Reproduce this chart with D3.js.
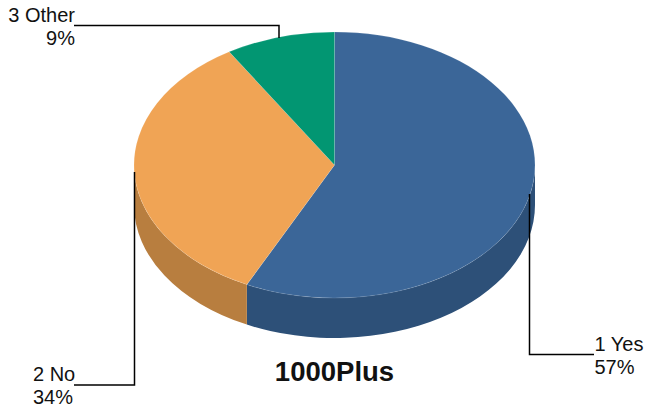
<!DOCTYPE html>
<html>
<head>
<meta charset="utf-8">
<script src="https://cdn.jsdelivr.net/npm/d3@7"></script>
<style>
    html, body { margin: 0; padding: 0; background: #fff; }
    svg { display: block; }
    text { font-family: "Liberation Sans", Arial, sans-serif; fill: #111; }
</style>
</head>
<body>
<svg id="chart" width="647" height="408"></svg>
<script>
    // Data, the labels show these rounded
    const categories = ['1 Yes', '2 No', '3 Other'];
    const percents = [57.2, 34, 8.8];
    const topColors = ['#3b6698', '#f0a455', '#029672'];
    const sideColors = ['#2d5078', '#b87e3f', '#017155'];
    const title = '1000Plus';

    // Constants
    const WIDTH = 647, HEIGHT = 408;
    const CX = 334.5, CY = 165;
    const RX = 200.5, RY = 133;
    const DEPTH = 40;

    // Leader lines, elbow paths and where their labels sit
    const leaders = [
        { points: [[529.5, 194], [529.5, 354.5], [594, 354.5]], x: 594.5, y: 350.5, anchor: 'start' },
        { points: [[134.5, 172], [134.5, 385], [74, 385]], x: 33, y: 380.5, anchor: 'start' },
        { points: [[279, 38], [279, 25.5], [74, 25.5]], x: 75, y: 22, anchor: 'end' }
    ];

    const svg = d3.select('#chart').attr('viewBox', [0, 0, WIDTH, HEIGHT]);

    const slices = d3.pie().sort(null)(percents);

    const px = (a) => CX + RX * Math.sin(a);
    const py = (a) => CY - RY * Math.cos(a);

    // Side wall, only the front half of the ellipse shows
    function wall(d) {
        let a0 = Math.max(d.startAngle, Math.PI / 2),
            a1 = Math.min(d.endAngle, Math.PI * 1.5);
        if (a1 <= a0) return null;
        return 'M' + px(a0) + ',' + py(a0)
            + 'A' + RX + ',' + RY + ' 0 0 1 ' + px(a1) + ',' + py(a1)
            + 'L' + px(a1) + ',' + (py(a1) + DEPTH)
            + 'A' + RX + ',' + RY + ' 0 0 0 ' + px(a0) + ',' + (py(a0) + DEPTH)
            + 'Z';
    }

    svg.append('g').selectAll('path')
        .data(slices)
        .enter()
        .append('path')
        .attr('d', wall)
        .attr('fill', (d, i) => sideColors[i]);

    // Top face, a circular arc squashed into the ellipse
    const arc = d3.arc().innerRadius(0).outerRadius(RX);
    svg.append('g')
        .attr('transform', 'translate(' + CX + ',' + CY + ') scale(1,' + RY / RX + ')')
        .selectAll('path')
        .data(slices)
        .enter()
        .append('path')
        .attr('d', arc)
        .attr('fill', (d, i) => topColors[i])
        .attr('stroke', 'rgba(255,255,255,0.3)')
        .attr('stroke-width', 0.5);

    // Leaders
    svg.append('g').selectAll('path')
        .data(leaders)
        .enter()
        .append('path')
        .attr('d', (d) => d3.line()(d.points))
        .attr('fill', 'none')
        .attr('stroke', '#000')
        .attr('stroke-width', 1.5);

    // Labels
    const labels = svg.append('g').selectAll('text')
        .data(leaders)
        .enter()
        .append('text')
        .attr('font-size', 20)
        .attr('text-anchor', (d) => d.anchor);
    labels.append('tspan')
        .attr('x', (d) => d.x)
        .attr('y', (d) => d.y)
        .text((d, i) => categories[i]);
    labels.append('tspan')
        .attr('x', (d) => d.x)
        .attr('y', (d) => d.y + 23)
        .text((d, i) => Math.round(percents[i]) + '%');

    svg.append('text')
        .attr('x', 334.5)
        .attr('y', 380.5)
        .attr('text-anchor', 'middle')
        .attr('font-size', 27.5)
        .attr('font-weight', 'bold')
        .text(title);
</script>
</body>
</html>
